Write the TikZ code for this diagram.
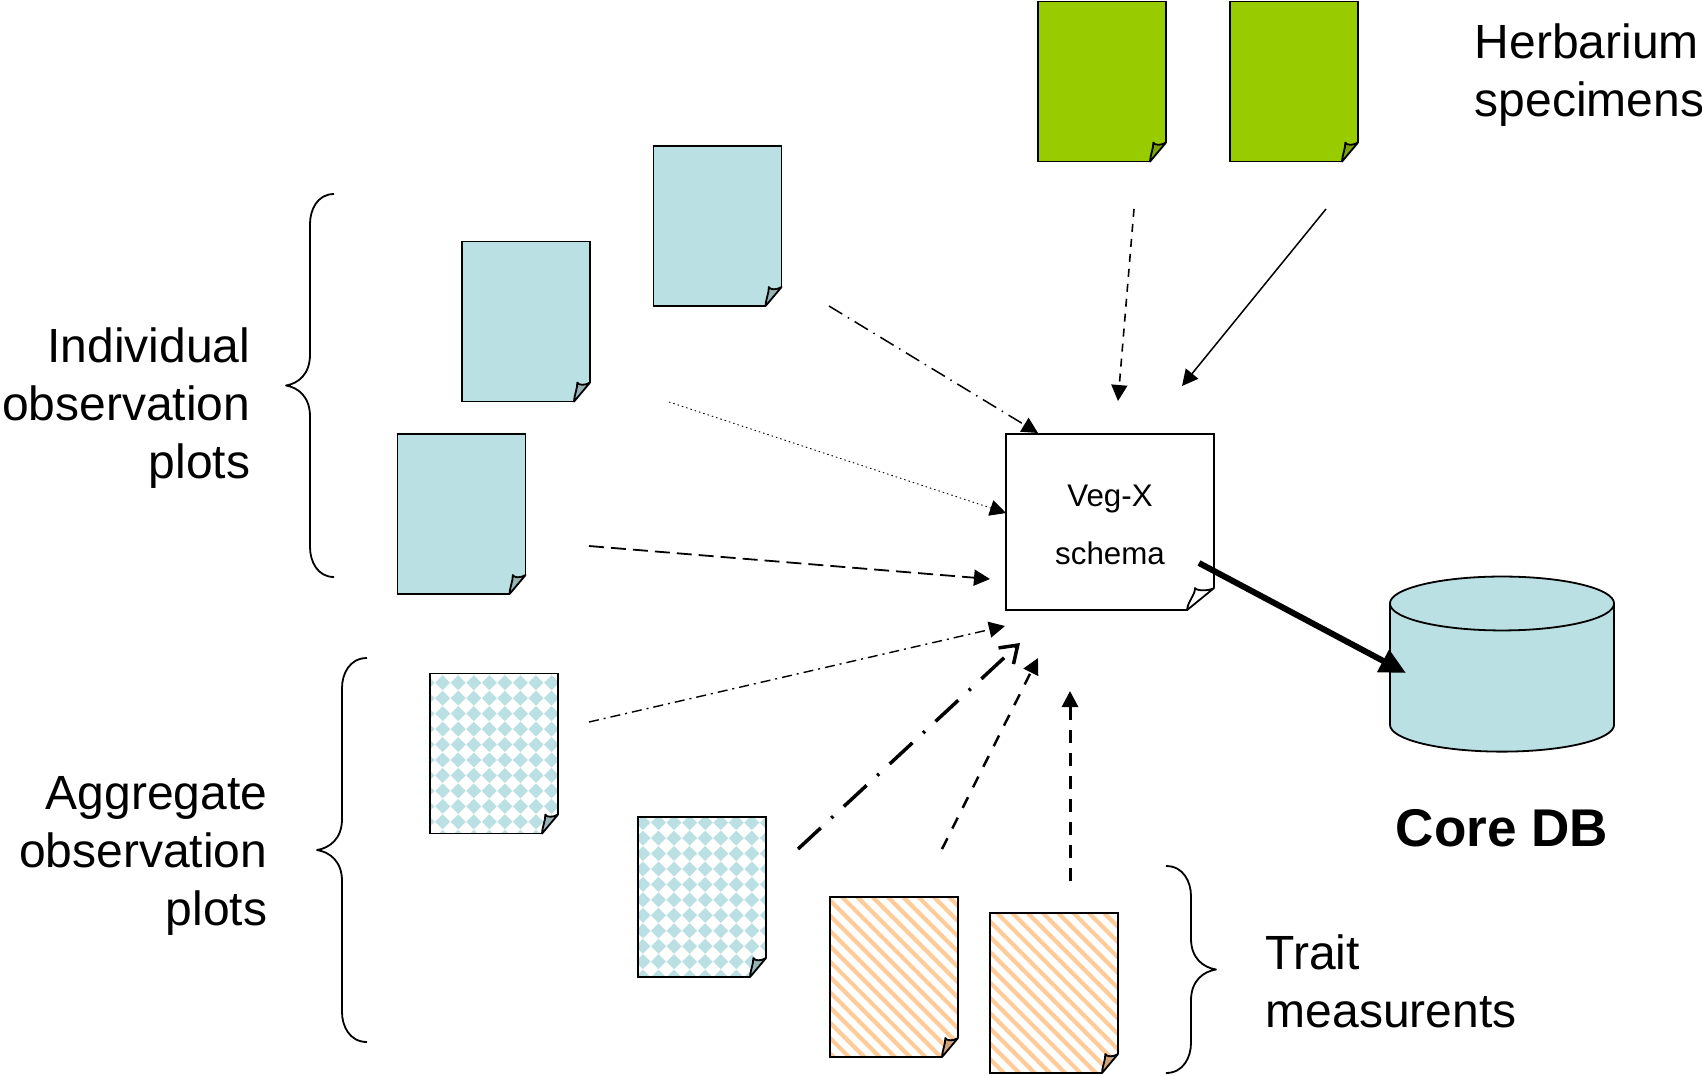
\documentclass[tikz,border=0pt]{standalone}
\usepackage{fontspec}
\setmainfont{Liberation Sans}
\usetikzlibrary{arrows.meta, shapes.geometric}

\definecolor{plotblue}{HTML}{BBE0E3}
\definecolor{plotfold}{HTML}{96B3B6}
\definecolor{herbgreen}{HTML}{99CC00}
\definecolor{herbfold}{HTML}{7AA300}
\definecolor{traitorange}{HTML}{FFCC99}
\definecolor{traitfold}{HTML}{CCA37A}

\newcommand{\foldnote}[5]{
    \path (#1.south east) ++(-#3,0) coordinate (#1B) ++(#3,-#4) coordinate (#1R);
    \fill[white] (#1B) -- ++(0,2) -- ++(#3+2,0) -- ++(0,-#4-2) -- (#1R) -- cycle;
    \filldraw[fill=#2, line width=0.018cm, line join=round] (#1B)
        .. controls +(0.4,-8) and +(0,7) .. ++(#5,-#4)
        .. controls +(1.5,3) and +(-5,3) .. (#1R) -- cycle;
}
\newcommand{\curlybrace}[4]{
    \draw[line width=0.018cm, line join=round] (#1+#2,#3)
        .. controls +(-0.7*#2,0) and +(0,-14) .. (#1,#3+30)
        -- (#1,{(#3+#4)/2-31})
        .. controls +(0,20) and +(0.5*#2,-2) .. (#1-#2,{(#3+#4)/2})
        .. controls +(0.5*#2,2) and +(0,-20) .. (#1,{(#3+#4)/2+31})
        -- (#1,#4-30)
        .. controls +(0,14) and +(-0.7*#2,0) .. (#1+#2,#4);
}

\begin{document}
\begin{tikzpicture}[x=0.01cm, y=-0.01cm, >={Triangle[length=0.16cm, width=0.16cm]}]
    \tikzstyle{note}=[rectangle, draw, line width=0.018cm, inner sep=0pt, outer sep=0pt, minimum width=1.28cm, minimum height=1.6cm]
    \tikzstyle{plotnote}=[note, fill=plotblue]
    \tikzstyle{herbnote}=[note, fill=herbgreen]
    \tikzstyle{biglabel}=[font=\fontsize{13.65pt}{16.5pt}\selectfont, inner sep=0pt]
    \tikzset{
        aggnote/.style 2 args={note, path picture={
            \foreach \i in {-1,...,9} \foreach \j in {-1,...,10}
                \fill[plotblue] (path picture bounding box.north west) ++(#1+15.55*\i,#2+15.45*\j-7.5)
                    -- ++(7.5,7.5) -- ++(-7.5,7.5) -- ++(-7.5,-7.5) -- cycle;
        }},
        traitnote/.style={note, path picture={
            \foreach \i in {-11,...,9}
                \draw[traitorange, line width=0.042cm] (path picture bounding box.north west) ++(#1+15.3*\i,0) -- ++(200,200);
        }}
    }

    \coordinate (obsOneStart) at (829,306);
    \coordinate (obsOneEnd) at (1038,433);
    \coordinate (obsTwoStart) at (669,402);
    \coordinate (obsTwoEnd) at (1006,513);
    \coordinate (obsThreeStart) at (589,546);
    \coordinate (obsThreeEnd) at (990,579);
    \coordinate (aggOneStart) at (589,722);
    \coordinate (aggOneEnd) at (1005,626);
    \coordinate (aggTwoStart) at (798,849);
    \coordinate (aggTwoEnd) at (1020,643);
    \coordinate (traitOneStart) at (942,849);
    \coordinate (traitOneEnd) at (1038,658);
    \coordinate (traitTwoStart) at (1070,881);
    \coordinate (traitTwoEnd) at (1070,691);
    \coordinate (herbOneStart) at (1134,209);
    \coordinate (herbOneEnd) at (1118,401);
    \coordinate (herbTwoStart) at (1326,209);
    \coordinate (herbTwoEnd) at (1182,386);
    \coordinate (schemaStart) at (1199,563);
    \coordinate (schemaEnd) at (1406,673);

    \path
    (obsOneStart) edge[->, line width=0.015cm, dash pattern=on 0.155cm off 0.065cm on 0.015cm off 0.065cm] (obsOneEnd)
    (obsTwoStart) edge[->, line width=0.009cm, dash pattern=on 0.015cm off 0.03cm] (obsTwoEnd)
    (obsThreeStart) edge[->, line width=0.018cm, dash pattern=on 0.15cm off 0.07cm] (obsThreeEnd)
    (aggOneStart) edge[->, line width=0.014cm, dash pattern=on 0.1cm off 0.05cm on 0.02cm off 0.05cm] (aggOneEnd)
    (aggTwoStart) edge[-{Straight Barb[length=0.16cm, width=0.22cm]}, line width=0.035cm, dash pattern=on 0.31cm off 0.145cm on 0.025cm off 0.145cm] (aggTwoEnd)
    (traitOneStart) edge[->, line width=0.025cm, dash pattern=on 0.12cm off 0.11cm] (traitOneEnd)
    (traitTwoStart) edge[->, line width=0.03cm, dash pattern=on 0.13cm off 0.1cm] (traitTwoEnd)
    (herbOneStart) edge[->, line width=0.016cm, dash pattern=on 0.08cm off 0.07cm] (herbOneEnd)
    (herbTwoStart) edge[->, line width=0.015cm] (herbTwoEnd);

    \useasboundingbox (0,0) rectangle (1702,1075);

    \node[herbnote] (herbOne) at (1102,81.5) {};
    \node[herbnote] (herbTwo) at (1294,81.5) {};
    \node[plotnote] (obsOne) at (717.5,226) {};
    \node[plotnote] (obsTwo) at (526,321.5) {};
    \node[plotnote] (obsThree) at (461.5,514) {};
    \node[aggnote={12.7}{9.3}] (aggOne) at (494,753.5) {};
    \node[aggnote={5}{5.7}] (aggTwo) at (702,897) {};
    \node[traitnote=12] (traitOne) at (894,977) {};
    \node[traitnote=7] (traitTwo) at (1054,993) {};
    \node[note, fill=white, minimum width=2.08cm, minimum height=1.76cm] (schema) at (1110,522) {};
    \node[font=\fontsize{8.9pt}{16.5pt}\selectfont, align=center] (schemaLabel) at (1110,525) {Veg-X\\schema};

    \foldnote{herbOne}{herbfold}{16}{19}{3.3}
    \foldnote{herbTwo}{herbfold}{16}{19}{3.3}
    \foldnote{obsOne}{plotfold}{16}{19}{3.3}
    \foldnote{obsTwo}{plotfold}{16}{19}{3.3}
    \foldnote{obsThree}{plotfold}{16}{19}{3.3}
    \foldnote{aggOne}{plotfold}{16}{19}{3.3}
    \foldnote{aggTwo}{plotfold}{16}{19}{3.3}
    \foldnote{traitOne}{traitfold}{16}{19}{3.3}
    \foldnote{traitTwo}{traitfold}{16}{19}{3.3}
    \foldnote{schema}{white}{27}{22}{8}

    \node[cylinder, draw, line width=0.018cm, fill=plotblue, shape border rotate=90, shape aspect=2.3, minimum width=2.24cm, minimum height=1.75cm, outer sep=0pt] (coreDB) at (1502,684) {};
    \node[font=\fontsize{15.1pt}{18pt}\selectfont\bfseries, inner sep=0pt] (coreLabel) at (1502,828) {Core DB};

    \path (schemaStart) edge[-{Triangle[length=0.26cm, width=0.24cm]}, line width=0.06cm] (schemaEnd);

    \node[biglabel, anchor=east, align=right] (obsLabel) at (251,408.5) {Individual\\observation\\plots};
    \node[biglabel, anchor=east, align=right] (aggLabel) at (268,856) {Aggregate\\observation\\plots};
    \node[biglabel, anchor=west, align=left] (herbLabel) at (1474,75.5) {Herbarium\\specimens};
    \node[biglabel, anchor=west, align=left] (traitLabel) at (1265,981) {Trait\\measurents};

    \curlybrace{310}{24}{194}{577}
    \curlybrace{342}{25}{658}{1042}
    \curlybrace{1191}{-25}{866}{1073}
\end{tikzpicture}
\end{document}
